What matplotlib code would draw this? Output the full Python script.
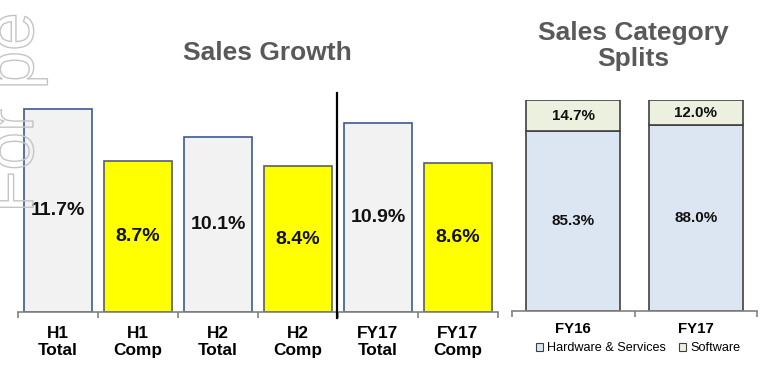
import matplotlib
matplotlib.use("Agg")
import matplotlib.pyplot as plt
from matplotlib.patches import Patch
from matplotlib.lines import Line2D
import matplotlib.patheffects as pe

plt.rcParams['font.family'] = ['Liberation Sans', 'DejaVu Sans']

# ---- data ----
growth_labels = ["H1\nTotal", "H1\nComp", "H2\nTotal", "H2\nComp", "FY17\nTotal", "FY17\nComp"]
growth_values = [11.7, 8.7, 10.1, 8.4, 10.9, 8.6]
growth_kind = ["total", "comp", "total", "comp", "total", "comp"]

split_years = ["FY16", "FY17"]
hardware_services = [85.3, 88.0]
software = [14.7, 12.0]

W, H = 769, 369
fig = plt.figure(figsize=(W / 100, H / 100), dpi=100)

def fx(px):
    return px / W

def fy(py):
    return 1 - py / H

title_color = "#595959"

# ---- left panel: Sales Growth ----
axL = fig.add_axes([fx(18), fy(312), fx(480), (312 - 90) / H])
face = {"total": "#F2F2F2", "comp": "#FFFF00"}
edge = {"total": "#3D5A94", "comp": "#555E70"}
xs = list(range(len(growth_values)))
axL.bar(xs, growth_values, width=0.84,
        color=[face[k] for k in growth_kind],
        edgecolor=[edge[k] for k in growth_kind], linewidth=1.2, zorder=2)
for x, v in zip(xs, growth_values):
    axL.text(x, v / 2, f"{v:.1f}%", ha="center", va="center",
             fontsize=14, fontweight="bold", color="#111111", zorder=3)
axL.set_xlim(-0.5, len(xs) - 0.5)
axL.set_ylim(0, (312 - 90) / 17.35)
for s in ["top", "right", "left"]:
    axL.spines[s].set_visible(False)
axL.spines["bottom"].set_color("#808080")
axL.spines["bottom"].set_linewidth(1.2)
axL.set_yticks([])
axL.set_xticks(xs)
axL.set_xticklabels(growth_labels, fontsize=12.4, fontweight="bold", linespacing=1.15)
axL.set_xticks([i - 0.5 for i in range(len(xs) + 1)], minor=True)
axL.tick_params(axis="x", which="major", length=0, pad=10)
axL.tick_params(axis="x", which="minor", length=4, color="#808080", width=1.2, direction="out")
axL.set_facecolor("none")

# divider line
fig.add_artist(Line2D([fx(337), fx(337)], [fy(318), fy(93)], color="black", linewidth=1.6))

fig.text(fx(267), fy(53), "Sales Growth", ha="center", va="center",
         fontsize=19, fontweight="bold", color=title_color)

# ---- right panel: Sales Category Splits ----
axR = fig.add_axes([fx(512), fy(311), fx(245), 211 / H])
xr = list(range(len(split_years)))
axR.bar(xr, hardware_services, width=0.77, color="#DCE6F2", edgecolor="#404040",
        linewidth=1.2, zorder=2)
axR.bar(xr, software, bottom=hardware_services, width=0.77, color="#EBF1DE",
        edgecolor="#404040", linewidth=1.2, zorder=2)
for x, hv, sv in zip(xr, hardware_services, software):
    axR.text(x, hv / 2, f"{hv:.1f}%", ha="center", va="center",
             fontsize=10.9, fontweight="bold", color="#111111", zorder=3)
    axR.text(x, hv + sv / 2, f"{sv:.1f}%", ha="center", va="center",
             fontsize=10.9, fontweight="bold", color="#111111", zorder=3)
axR.set_xlim(-0.5, len(xr) - 0.5)
axR.set_ylim(0, 100)
for s in ["top", "right", "left"]:
    axR.spines[s].set_visible(False)
axR.spines["bottom"].set_color("#808080")
axR.spines["bottom"].set_linewidth(1.2)
axR.set_yticks([])
axR.set_xticks(xr)
axR.set_xticklabels(split_years, fontsize=10.8, fontweight="bold")
axR.set_xticks([i - 0.5 for i in range(len(xr) + 1)], minor=True)
axR.tick_params(axis="x", which="major", length=0, pad=8)
axR.tick_params(axis="x", which="minor", length=4, color="#808080", width=1.2, direction="out")
axR.set_facecolor("none")

fig.text(fx(633), fy(46), "Sales Category\nSplits", ha="center", va="center",
         fontsize=19, fontweight="bold", color=title_color, linespacing=1.15)

handles = [Patch(facecolor="#DCE6F2", edgecolor="#404040", linewidth=0.8),
           Patch(facecolor="#EBF1DE", edgecolor="#404040", linewidth=0.8)]
fig.legend(handles, ["Hardware & Services", "Software"], loc="center",
           bbox_to_anchor=(fx(638), fy(348)), ncol=2, frameon=False, fontsize=9.1,
           handlelength=0.55, handleheight=0.6, handletextpad=0.3,
           columnspacing=1.1, borderpad=0, borderaxespad=0)

# ---- watermark ----
fig.text(fx(33), fy(213), "For pe", rotation=90, ha="left", va="baseline",
         rotation_mode="anchor", fontsize=50, color="none", zorder=10,
         path_effects=[pe.Stroke(linewidth=1.0, foreground="#C4C4C4")])

fig.savefig("out.png", dpi=100)
